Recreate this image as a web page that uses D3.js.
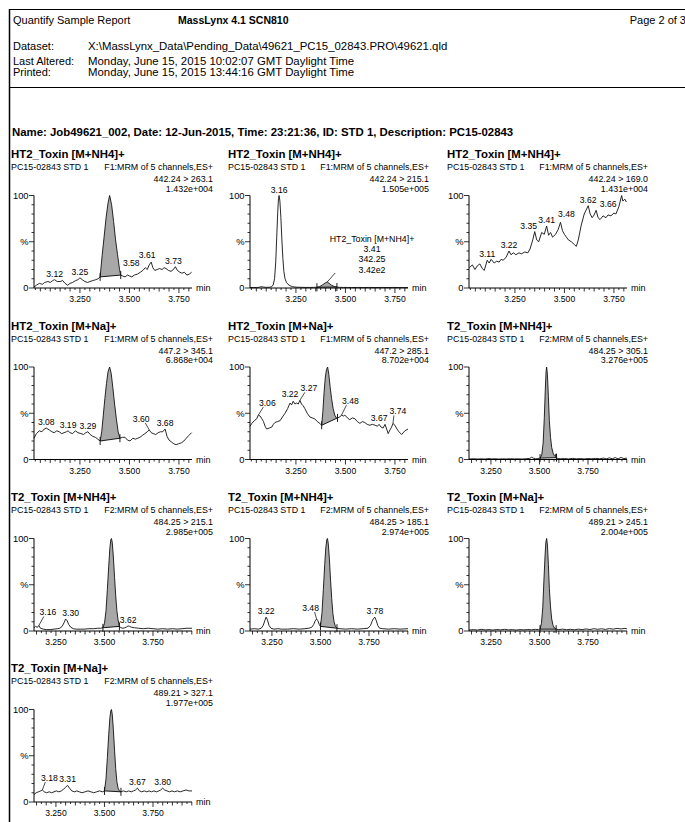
<!DOCTYPE html>
<html><head><meta charset="utf-8">
<script src="https://cdn.jsdelivr.net/npm/d3@7"></script>
<style>
body{margin:0;background:#fff;}
svg{display:block;font-family:"Liberation Sans",Arial,Helvetica,sans-serif;}
</style></head><body>
<svg id="c" width="685" height="822"></svg>
<script>
// ---------- header text ----------
const reportTitle = "Quantify Sample Report";
const softwareName = "MassLynx 4.1 SCN810";
const pageText = "Page 2 of 3";
const headerLabels = ["Dataset:", "Last Altered:", "Printed:"];
const headerValues = ["X:\\MassLynx_Data\\Pending_Data\\49621_PC15_02843.PRO\\49621.qld",
  "Monday, June 15, 2015 10:02:07 GMT Daylight Time",
  "Monday, June 15, 2015 13:44:16 GMT Daylight Time"];
const sampleLine = "Name: Job49621_002, Date: 12-Jun-2015, Time: 23:21:36, ID: STD 1, Description: PC15-02843";

// ---------- panel meta ----------
const panelTitles = ["HT2_Toxin [M+NH4]+","HT2_Toxin [M+NH4]+","HT2_Toxin [M+NH4]+","HT2_Toxin [M+Na]+","HT2_Toxin [M+Na]+",
  "T2_Toxin [M+NH4]+","T2_Toxin [M+NH4]+","T2_Toxin [M+NH4]+","T2_Toxin [M+Na]+","T2_Toxin [M+Na]+"];
const panelSample = "PC15-02843 STD 1";
const panelFunctions = ["F1","F1","F1","F1","F1","F2","F2","F2","F2","F2"];
const panelTransitions = ["442.24 > 263.1","442.24 > 215.1","442.24 > 169.0","447.2 > 345.1","447.2 > 285.1",
  "484.25 > 305.1","484.25 > 215.1","484.25 > 185.1","489.21 > 245.1","489.21 > 327.1"];
const panelIntensities = ["1.432e+004","1.505e+005","1.431e+004","6.868e+004","8.702e+004",
  "3.276e+005","2.985e+005","2.974e+005","2.004e+005","1.977e+005"];
const xTickValues = [3.25, 3.5, 3.75];
const xTickLabels = ["3.250", "3.500", "3.750"];
const yTickLabels = ["0", "%", "100"];
const ht2Window = [3.018, 3.816];
const t2Window = [3.137, 3.951];

// ---------- traces: [time (min), relative intensity %] ----------
const traceA = [[3.018,1],[3.030,3],[3.045,5],[3.060,4],[3.072,6],[3.088,7],[3.100,6],[3.112,8],[3.122,9],[3.135,7],[3.150,7],[3.163,8],[3.175,5],[3.188,3],[3.200,5],[3.213,6],[3.228,8],[3.240,9],[3.250,11],[3.262,9],[3.275,7],[3.288,6],[3.300,7],[3.315,8],[3.330,9],[3.342,10],[3.352,12],[3.362,35],[3.372,55],[3.382,76],[3.392,92],[3.400,100],[3.410,90],[3.420,72],[3.430,52],[3.440,36],[3.450,20],[3.456,14],[3.465,13],[3.478,12],[3.490,14],[3.500,13],[3.512,12],[3.525,14],[3.540,15],[3.555,17],[3.568,19],[3.580,22],[3.590,20],[3.600,25],[3.610,28],[3.618,22],[3.628,19],[3.640,20],[3.652,21],[3.665,20],[3.675,22],[3.685,21],[3.697,19],[3.710,18],[3.722,20],[3.732,23],[3.742,19],[3.755,17],[3.765,16],[3.778,17],[3.790,14],[3.802,15],[3.814,17]];
const traceB = [[3.018,0.5],[3.035,0.6],[3.050,0.5],[3.065,0.8],[3.075,1.5],[3.085,1],[3.100,0.7],[3.115,0.8],[3.125,1.2],[3.135,3],[3.142,10],[3.148,28],[3.153,55],[3.158,82],[3.162,97],[3.165,100],[3.169,94],[3.174,76],[3.179,52],[3.184,32],[3.189,18],[3.195,10],[3.202,6],[3.210,4],[3.220,2.5],[3.232,1.5],[3.245,1],[3.260,0.8],[3.280,0.7],[3.300,0.6],[3.320,0.6],[3.340,0.7],[3.356,0.8],[3.370,1.5],[3.385,3.5],[3.398,5.5],[3.408,6.5],[3.418,5],[3.430,3],[3.445,1.5],[3.457,1],[3.470,0.7],[3.490,0.6],[3.510,0.6],[3.530,0.5],[3.560,0.6],[3.590,0.5],[3.620,0.6],[3.650,0.5],[3.680,0.6],[3.710,0.5],[3.740,0.6],[3.770,0.5],[3.800,0.5],[3.816,0.5]];
const traceC = [[3.020,22],[3.035,25],[3.048,20],[3.060,24],[3.073,26],[3.085,21],[3.095,19],[3.110,30],[3.120,27],[3.130,31],[3.145,27],[3.158,29],[3.170,28],[3.180,31],[3.190,30],[3.205,33],[3.220,40],[3.230,36],[3.242,38],[3.255,36],[3.270,38],[3.284,37],[3.300,39],[3.315,38],[3.326,42],[3.340,52],[3.350,61],[3.360,52],[3.370,50],[3.385,60],[3.398,58],[3.410,67],[3.420,57],[3.430,60],[3.440,55],[3.455,58],[3.468,63],[3.480,71],[3.490,62],[3.500,58],[3.510,55],[3.520,52],[3.535,50],[3.550,47],[3.560,45],[3.570,52],[3.585,68],[3.600,80],[3.620,89],[3.630,80],[3.640,76],[3.650,79],[3.660,84],[3.670,76],[3.680,74],[3.695,78],[3.710,76],[3.720,79],[3.735,78],[3.750,81],[3.760,80],[3.775,88],[3.789,100],[3.795,94],[3.805,96],[3.813,93]];
const traceD = [[3.018,23],[3.030,28],[3.045,31],[3.058,30],[3.070,33],[3.080,34],[3.095,32],[3.108,30],[3.120,29],[3.133,31],[3.145,30],[3.158,28],[3.170,29],[3.182,30],[3.190,31],[3.200,29],[3.213,28],[3.227,31],[3.240,29],[3.255,28],[3.268,27],[3.280,29],[3.290,30],[3.302,27],[3.315,25],[3.328,24],[3.340,22],[3.352,20],[3.360,30],[3.368,48],[3.376,66],[3.384,82],[3.392,95],[3.400,100],[3.408,93],[3.416,78],[3.425,60],[3.434,44],[3.443,30],[3.452,23],[3.465,24],[3.478,24],[3.490,21],[3.503,20],[3.517,23],[3.530,22],[3.542,23],[3.553,24],[3.565,26],[3.578,28],[3.590,30],[3.600,32],[3.610,29],[3.620,28],[3.633,27],[3.645,29],[3.657,30],[3.668,30],[3.680,33],[3.690,25],[3.700,21],[3.712,19],[3.724,17],[3.736,16],[3.748,17],[3.762,18],[3.775,20],[3.787,23],[3.800,26],[3.814,29]];
const traceE = [[3.018,36],[3.027,39],[3.040,42],[3.052,44],[3.060,48],[3.069,47],[3.078,44],[3.086,41],[3.094,36],[3.102,33],[3.115,34],[3.128,35],[3.136,38],[3.144,40],[3.157,41],[3.170,42],[3.182,46],[3.195,50],[3.208,55],[3.220,61],[3.228,59],[3.236,63],[3.245,60],[3.253,61],[3.262,60],[3.270,64],[3.278,60],[3.287,58],[3.295,55],[3.307,50],[3.320,46],[3.332,45],[3.345,44],[3.358,41],[3.371,39],[3.380,37],[3.386,52],[3.392,72],[3.398,88],[3.404,97],[3.410,100],[3.416,92],[3.423,78],[3.430,66],[3.438,55],[3.446,48],[3.454,45],[3.460,45],[3.472,46],[3.480,48],[3.490,47],[3.497,48],[3.510,45],[3.522,43],[3.535,45],[3.548,44],[3.560,41],[3.573,39],[3.585,41],[3.598,40],[3.610,38],[3.623,37],[3.636,38],[3.650,37],[3.662,36],[3.670,38],[3.680,35],[3.690,34],[3.700,38],[3.708,33],[3.716,28],[3.725,32],[3.733,35],[3.740,39],[3.750,37],[3.760,33],[3.770,30],[3.784,27],[3.800,31],[3.816,33]];
const traceF = [[3.137,0.5],[3.160,0.8],[3.180,0.5],[3.200,0.7],[3.220,0.5],[3.240,1],[3.255,0.6],[3.270,0.8],[3.290,0.5],[3.310,0.7],[3.330,0.6],[3.350,0.8],[3.370,0.6],[3.390,0.7],[3.410,0.5],[3.430,0.8],[3.450,1.2],[3.460,2.5],[3.468,1.5],[3.480,0.8],[3.492,1],[3.503,1.5],[3.512,5],[3.519,18],[3.525,45],[3.530,75],[3.534,95],[3.537,100],[3.541,92],[3.546,68],[3.551,42],[3.557,24],[3.563,13],[3.570,7],[3.577,4],[3.582,3],[3.585,6],[3.588,2],[3.595,1],[3.610,0.8],[3.630,1],[3.650,0.6],[3.670,1.2],[3.690,0.7],[3.710,1],[3.730,0.6],[3.750,1],[3.770,0.8],[3.790,1.2],[3.810,0.8],[3.830,1.5],[3.845,0.7],[3.860,1.8],[3.875,0.8],[3.890,2],[3.905,0.7],[3.920,2.2],[3.935,1],[3.951,1.5]];
const traceG = [[3.137,3.5],[3.145,5],[3.155,4],[3.162,6],[3.170,3],[3.185,2],[3.200,1.5],[3.220,1.5],[3.240,2],[3.258,2.5],[3.270,3],[3.282,5],[3.292,9],[3.300,13],[3.308,11],[3.316,7],[3.327,4],[3.340,2.5],[3.355,2],[3.375,2],[3.395,2],[3.420,2.5],[3.445,2.5],[3.465,3],[3.480,3],[3.492,3.5],[3.500,8],[3.508,22],[3.515,45],[3.522,70],[3.528,90],[3.533,99],[3.536,100],[3.540,96],[3.546,80],[3.552,58],[3.558,38],[3.564,22],[3.570,12],[3.577,5],[3.585,3.5],[3.595,3],[3.605,3.5],[3.615,4.5],[3.622,5.5],[3.630,5],[3.640,4],[3.655,3.5],[3.675,3],[3.700,2.5],[3.725,3],[3.750,2.5],[3.775,2],[3.800,2.5],[3.825,2],[3.850,2.5],[3.875,2],[3.900,2.5],[3.925,3],[3.951,3]];
const traceH = [[3.137,2],[3.160,2.5],[3.180,2],[3.195,3],[3.205,6],[3.213,11],[3.220,15],[3.227,12],[3.235,6],[3.245,3],[3.260,2],[3.280,2.5],[3.300,2],[3.330,2],[3.360,2.5],[3.390,2],[3.420,2.5],[3.440,3],[3.455,4],[3.465,7],[3.473,11],[3.480,13],[3.487,11],[3.494,7],[3.500,5],[3.508,20],[3.515,45],[3.522,72],[3.528,91],[3.533,99],[3.536,100],[3.540,95],[3.546,78],[3.552,55],[3.558,35],[3.564,19],[3.570,10],[3.577,5],[3.585,3],[3.600,2.5],[3.630,2],[3.660,2.5],[3.690,2],[3.720,2.5],[3.745,3],[3.758,6],[3.765,10],[3.772,13],[3.780,15],[3.788,11],[3.795,6],[3.805,3],[3.820,2.5],[3.850,2],[3.880,2.5],[3.910,2],[3.951,2.5]];
const traceI = [[3.137,1],[3.160,1.5],[3.180,1],[3.200,1.8],[3.220,1.2],[3.240,1.5],[3.260,1],[3.280,1.6],[3.300,1.2],[3.320,1.8],[3.340,1.2],[3.360,1.5],[3.380,1],[3.400,1.5],[3.420,1.2],[3.440,1.6],[3.460,1.3],[3.480,1.8],[3.495,1.5],[3.503,2],[3.510,8],[3.517,25],[3.523,55],[3.529,82],[3.533,96],[3.537,100],[3.541,93],[3.546,72],[3.551,46],[3.557,26],[3.563,13],[3.570,6],[3.578,3],[3.586,2],[3.600,1.5],[3.620,2],[3.640,1.4],[3.660,1.8],[3.680,1.3],[3.700,2],[3.720,1.5],[3.740,2.2],[3.760,1.6],[3.780,2.5],[3.800,1.8],[3.820,2.4],[3.840,1.7],[3.860,2.6],[3.880,2],[3.900,2.8],[3.920,2.2],[3.940,2.8],[3.951,2.4]];
const traceJ = [[3.137,8],[3.148,10],[3.160,11],[3.172,12],[3.180,13],[3.190,11],[3.202,10],[3.215,11],[3.228,10],[3.240,11],[3.252,12],[3.265,11],[3.278,12],[3.290,14],[3.300,16],[3.310,18],[3.320,15],[3.332,12],[3.345,11],[3.358,12],[3.370,11],[3.385,10],[3.400,11],[3.415,12],[3.430,11],[3.445,10],[3.460,11],[3.475,12],[3.490,11],[3.500,12],[3.508,25],[3.515,48],[3.522,73],[3.528,91],[3.533,99],[3.536,100],[3.540,95],[3.546,78],[3.552,56],[3.558,36],[3.564,22],[3.570,15],[3.577,12],[3.585,11],[3.598,12],[3.612,11],[3.625,12],[3.638,11],[3.650,12],[3.660,13],[3.670,15],[3.680,12],[3.692,11],[3.705,12],[3.718,11],[3.730,12],[3.742,11],[3.755,12],[3.768,11],[3.780,12],[3.790,13],[3.800,15],[3.810,13],[3.822,12],[3.835,11],[3.848,12],[3.860,11],[3.875,12],[3.890,11],[3.905,12],[3.920,13],[3.935,12],[3.951,12]];
const traces = [traceA, traceB, traceC, traceD, traceE, traceF, traceG, traceH, traceI, traceJ];

// integrated peak windows [start, end] (null = none)
const integrations = [[3.352,3.456],[3.356,3.457],null,[3.352,3.452],[3.380,3.460],[3.503,3.588],[3.492,3.577],[3.500,3.585],[3.503,3.586],[3.500,3.585]];

// retention time labels [text, apex time]
const peakLabels = [
  [["3.12",3.122],["3.25",3.250],["3.58",3.580],["3.61",3.610],["3.73",3.732]],
  [["3.16",3.165]],
  [["3.11",3.110],["3.22",3.220],["3.35",3.350],["3.41",3.410],["3.48",3.480],["3.62",3.620],["3.66",3.660]],
  [["3.08",3.080],["3.19",3.190],["3.29",3.290],["3.60",3.600],["3.68",3.680]],
  [["3.06",3.060],["3.22",3.220],["3.27",3.270],["3.48",3.480],["3.67",3.670],["3.74",3.740]],
  [],
  [["3.16",3.162],["3.30",3.300],["3.62",3.622]],
  [["3.22",3.220],["3.48",3.480],["3.78",3.780]],
  [],
  [["3.18",3.180],["3.31",3.310],["3.67",3.670],["3.80",3.800]]
];
// compound annotation in panel 2
const annotationLines = ["HT2_Toxin [M+NH4]+", "3.41", "342.25", "3.42e2"];
const annotationApex = 3.408;

// ---------- layout ----------
const colAxisLeft = [34, 250, 469];
const rowTitleY = [154, 325.5, 497, 668];
const axisWidth = 158;
const labelNudge = {
  "0:3.58":[-14,1], "0:3.61":[-4,-1], "0:3.73":[-2,0],
  "2:3.35":[-6,0], "2:3.48":[6,-2], "2:3.66":[12,0],
  "3:3.60":[-8,-5],
  "4:3.06":[9,-6], "4:3.22":[0,-3], "4:3.27":[9,-6], "4:3.48":[9,-8], "4:3.74":[5,-6],
  "6:3.16":[9,-7], "6:3.30":[5,0],
  "7:3.48":[-6,-5],
  "9:3.18":[7,-6]
};

const svg = d3.select("#c");

// header
svg.append("text").attr("x",13).attr("y",24).attr("font-size",11).text(reportTitle);
svg.append("text").attr("x",178).attr("y",24).attr("font-size",10.5).attr("font-weight","bold").text(softwareName);
svg.append("text").attr("x",686).attr("y",24).attr("font-size",11).attr("text-anchor","end").text(pageText);
const headerY = [50, 64.5, 75.5];
headerLabels.forEach((l,i)=>{
  svg.append("text").attr("x",13).attr("y",headerY[i]).attr("font-size",11).text(l);
  svg.append("text").attr("x",88).attr("y",headerY[i]).attr("font-size",11.4).text(headerValues[i]);
});
svg.append("text").attr("x",12).attr("y",136).attr("font-size",11.4).attr("font-weight","bold").text(sampleLine);

// panels
traces.forEach((trace, p) => {
  const r = Math.floor(p/3), c = p%3;
  const axL = colAxisLeft[c];
  const T = rowTitleY[r];
  const y0 = T + 134, y100 = T + 41.5;
  const win = panelFunctions[p] === "F1" ? ht2Window : t2Window;
  const x = d3.scaleLinear().domain(win).range([axL, axL + axisWidth]);
  const y = d3.scaleLinear().domain([0,100]).range([y0, y100]);
  const g = svg.append("g");
  const tx = (c === 0 ? 11 : axL - 22), rx = axL + 179;

  g.append("text").attr("x",tx).attr("y",T+4).attr("font-size",11.4).attr("font-weight","bold").text(panelTitles[p]);
  g.append("text").attr("x",tx).attr("y",T+16).attr("font-size",8.9).text(panelSample);
  g.append("text").attr("x",rx).attr("y",T+16).attr("font-size",8.9).attr("text-anchor","end")
    .text(panelFunctions[p] + ":MRM of 5 channels,ES+");
  g.append("text").attr("x",rx).attr("y",T+28).attr("font-size",8.9).attr("text-anchor","end").text(panelTransitions[p]);
  g.append("text").attr("x",rx).attr("y",T+37.5).attr("font-size",8.9).attr("text-anchor","end").text(panelIntensities[p]);

  // integrated peak
  const integ = integrations[p];
  if (integ) {
    const pts = trace.filter(d => d[0] >= integ[0]-1e-9 && d[0] <= integ[1]+1e-9);
    const line = d3.line().x(d=>x(d[0])).y(d=>y(d[1]));
    g.append("path").attr("d", line(pts) + "Z").attr("fill","#a8a8a8").attr("stroke","none");
    const a = pts[0], b = pts[pts.length-1];
    g.append("line").attr("x1",x(a[0])).attr("y1",y(a[1])).attr("x2",x(b[0])).attr("y2",y(b[1]))
      .attr("stroke","#000").attr("stroke-width",0.9);
    [a,b].forEach(d => g.append("line").attr("x1",x(d[0])).attr("x2",x(d[0]))
      .attr("y1",y(d[1])-4).attr("y2",y(d[1])+4).attr("stroke","#000").attr("stroke-width",0.9));
  }

  // trace
  g.append("path").attr("d", d3.line().x(d=>x(d[0])).y(d=>y(d[1]))(trace))
    .attr("fill","none").attr("stroke","#111").attr("stroke-width",0.9).attr("stroke-linejoin","round");

  // axes
  g.append("line").attr("x1",axL).attr("x2",axL).attr("y1",y0).attr("y2",y100).attr("stroke","#000");
  g.append("line").attr("x1",axL).attr("x2",axL+axisWidth).attr("y1",y0).attr("y2",y0).attr("stroke","#000");
  d3.range(0, 101, 10).forEach(v => {
    const len = (v % 50 === 0) ? 5 : 2.5;
    g.append("line").attr("x1",axL-len).attr("x2",axL).attr("y1",y(v)).attr("y2",y(v)).attr("stroke","#000").attr("stroke-width",0.8);
  });
  [0,50,100].forEach((v,i) => g.append("text").attr("x",axL-5.5).attr("y",y(v)+3.3).attr("font-size",9.3)
    .attr("text-anchor","end").text(yTickLabels[i]));
  const k0 = Math.ceil(win[0]/0.025 - 1e-6), k1 = Math.floor(win[1]/0.025 + 1e-6);
  for (let k = k0; k <= k1; k++) {
    const len = (k % 10 === 0) ? 5 : (k % 2 === 0 ? 3.5 : 2);
    const xv = x(k*0.025);
    g.append("line").attr("x1",xv).attr("x2",xv).attr("y1",y0).attr("y2",y0+len).attr("stroke","#000").attr("stroke-width",0.8);
  }
  xTickValues.forEach((v,i) => g.append("text").attr("x",x(v)).attr("y",y0+14).attr("font-size",8.6)
    .attr("text-anchor","middle").text(xTickLabels[i]));
  g.append("text").attr("x",axL+axisWidth+4).attr("y",y0+3).attr("font-size",9).text("min");

  // peak labels
  peakLabels[p].forEach(([t, tm]) => {
    const pt = trace.reduce((best, d) => Math.abs(d[0]-tm) < Math.abs(best[0]-tm) ? d : best, trace[0]);
    const nd = labelNudge[p + ":" + t] || [0,0];
    const px = x(pt[0]), py = y(pt[1]);
    const lx = px + nd[0], ly = py - 3 + nd[1];
    if (nd[1] <= -4) {
      g.append("line").attr("x1",px).attr("y1",py).attr("x2",lx + (nd[0] > 0 ? -4 : 4)).attr("y2",ly+1)
        .attr("stroke","#000").attr("stroke-width",0.7);
    }
    g.append("text").attr("x",lx).attr("y",ly).attr("font-size",8.6).attr("text-anchor","middle").text(t);
  });

  // annotation (panel 2)
  if (p === 1) {
    const pt = trace.find(d => Math.abs(d[0]-annotationApex) < 1e-6);
    const px = x(pt[0]), py = y(pt[1]);
    g.append("line").attr("x1",px).attr("y1",py).attr("x2",px+8).attr("y2",py-9).attr("stroke","#000").attr("stroke-width",0.7);
    const ax = axL + 122;
    const ays = [-46, -36, -26, -15];
    annotationLines.forEach((s,i) => g.append("text").attr("x",ax).attr("y",y0+ays[i]).attr("font-size",8.8)
      .attr("text-anchor","middle").text(s));
  }
});

// page border
svg.append("line").attr("x1",9.5).attr("x2",9.5).attr("y1",9).attr("y2",822).attr("stroke","#000").attr("stroke-width",1.5);
svg.append("line").attr("x1",9).attr("x2",685).attr("y1",9.5).attr("y2",9.5).attr("stroke","#000").attr("stroke-width",1);
svg.append("line").attr("x1",9).attr("x2",685).attr("y1",87.5).attr("y2",87.5).attr("stroke","#000").attr("stroke-width",1);
</script>
</body></html>
